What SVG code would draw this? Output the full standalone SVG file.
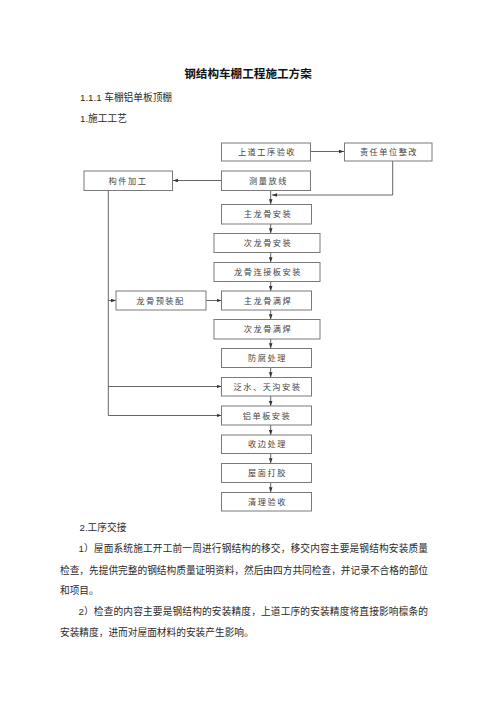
<svg xmlns="http://www.w3.org/2000/svg" width="496" height="702" viewBox="0 0 496 702">
<style>
.bg{fill:#ffffff}
.box{fill:#ffffff;stroke:#7a7a7a;stroke-width:1}
.bt{font-family:"Noto Sans CJK SC","Liberation Sans",sans-serif;font-size:8.2px;fill:#444;text-anchor:middle;letter-spacing:1.5px}
.ln{fill:none;stroke:#555;stroke-width:0.9}
.body{font-family:"Liberation Sans","Noto Sans CJK SC",sans-serif;font-size:9.7px;fill:#2a2a2a}
.title{font-family:"Noto Sans CJK SC","Liberation Sans",sans-serif;font-size:11.6px;font-weight:bold;fill:#111;text-anchor:middle}
</style>
<defs>
<marker id="arr" markerUnits="userSpaceOnUse" markerWidth="6" markerHeight="4" refX="5" refY="1.8" orient="auto">
<path d="M0,0 L5,1.8 L0,3.6 Z" fill="#333"/>
</marker>
</defs>
<rect class="bg" x="0" y="0" width="496" height="702"/>

<g id="header">
<text class="title" x="248" y="77.5">钢结构车棚工程施工方案</text>
<text class="body" x="80" y="100.5">1.1.1 车棚铝单板顶棚</text>
<text class="body" x="80" y="122">1.施工工艺</text>
</g>

<g id="connectors">
<path class="ln" d="M310.5 151.5 H344" marker-end="url(#arr)"/>
<path class="ln" d="M221.5 180.5 H173" marker-end="url(#arr)"/>
<path class="ln" d="M392.7 161 V195 H272" marker-end="url(#arr)"/>
<path class="ln" d="M270.7 190.5 V204.3" marker-end="url(#arr)"/>
<path class="ln" d="M270.7 224 V233.3" marker-end="url(#arr)"/>
<path class="ln" d="M270.7 252.5 V262.3" marker-end="url(#arr)"/>
<path class="ln" d="M270.7 281.5 V291" marker-end="url(#arr)"/>
<path class="ln" d="M270.7 310 V319.3" marker-end="url(#arr)"/>
<path class="ln" d="M270.7 339 V348.3" marker-end="url(#arr)"/>
<path class="ln" d="M270.7 367.5 V377.3" marker-end="url(#arr)"/>
<path class="ln" d="M270.7 396 V406" marker-end="url(#arr)"/>
<path class="ln" d="M270.7 425 V435" marker-end="url(#arr)"/>
<path class="ln" d="M270.7 453.5 V463.3" marker-end="url(#arr)"/>
<path class="ln" d="M270.7 482.5 V492.3" marker-end="url(#arr)"/>
<path class="ln" d="M108.3 190.5 V415.5"/>
<path class="ln" d="M108.3 300.5 H116" marker-end="url(#arr)"/>
<path class="ln" d="M108.3 386.5 H221.5" marker-end="url(#arr)"/>
<path class="ln" d="M108.3 415.5 H221.5" marker-end="url(#arr)"/>
<path class="ln" d="M206 300.5 H221.5" marker-end="url(#arr)"/>
</g>

<g id="n-shangdao"><rect class="box" x="221.5" y="143" width="89" height="18"/><text class="bt" x="267" y="155">上道工序验收</text></g>
<g id="n-zeren"><rect class="box" x="344.5" y="143" width="87.5" height="18"/><text class="bt" x="389" y="155">责任单位整改</text></g>
<g id="n-goujian"><rect class="box" x="84" y="171" width="88.5" height="19.5"/><text class="bt" x="128" y="183.8">构件加工</text></g>
<g id="n-celiang"><rect class="box" x="221.5" y="171" width="89" height="19.5"/><text class="bt" x="268.5" y="183.8">测量放线</text></g>
<g id="n-zhulonggu"><rect class="box" x="221.5" y="204.5" width="90" height="19.5"/><text class="bt" x="268" y="217.3">主龙骨安装</text></g>
<g id="n-cilonggu"><rect class="box" x="214" y="233.5" width="106" height="19"/><text class="bt" x="268" y="246">次龙骨安装</text></g>
<g id="n-lianjieban"><rect class="box" x="214" y="262.5" width="106" height="19"/><text class="bt" x="268" y="275">龙骨连接板安装</text></g>
<g id="n-yuzhuangpei"><rect class="box" x="116" y="291" width="90" height="19"/><text class="bt" x="160.5" y="303.5">龙骨预装配</text></g>
<g id="n-zhuhan"><rect class="box" x="221.5" y="291" width="90" height="19"/><text class="bt" x="268" y="303.5">主龙骨满焊</text></g>
<g id="n-cihan"><rect class="box" x="214" y="319.5" width="106" height="19.5"/><text class="bt" x="268" y="332.3">次龙骨满焊</text></g>
<g id="n-fangfu"><rect class="box" x="221.5" y="348.5" width="90" height="19"/><text class="bt" x="267.5" y="361">防腐处理</text></g>
<g id="n-fanshui"><rect class="box" x="221.5" y="377.5" width="90" height="18.5"/><text class="bt" x="267.5" y="389.8">泛水、天沟安装</text></g>
<g id="n-lvdanban"><rect class="box" x="221.5" y="406" width="90" height="19"/><text class="bt" x="267" y="418.5">铝单板安装</text></g>
<g id="n-shoubian"><rect class="box" x="221.5" y="435" width="90" height="18.5"/><text class="bt" x="267.5" y="447.3">收边处理</text></g>
<g id="n-wumian"><rect class="box" x="221.5" y="463.5" width="90" height="19"/><text class="bt" x="267.5" y="476">屋面打胶</text></g>
<g id="n-qingli"><rect class="box" x="221.5" y="492.5" width="90" height="18.5"/><text class="bt" x="267.5" y="504.8">清理验收</text></g>

<g id="body-text">
<text class="body" x="79.5" y="531">2.工序交接</text>
<text class="body" x="78.5" y="552" textLength="349.5" lengthAdjust="spacing">1）屋面系统施工开工前一周进行钢结构的移交，移交内容主要是钢结构安装质量</text>
<text class="body" x="60" y="573.5" textLength="368" lengthAdjust="spacing">检查，先提供完整的钢结构质量证明资料，然后由四方共同检查，并记录不合格的部位</text>
<text class="body" x="60" y="594">和项目。</text>
<text class="body" x="78.5" y="615" textLength="349.5" lengthAdjust="spacing">2）检查的内容主要是钢结构的安装精度，上道工序的安装精度将直接影响檩条的</text>
<text class="body" x="60" y="635.5">安装精度，进而对屋面材料的安装产生影响。</text>
</g>
</svg>
